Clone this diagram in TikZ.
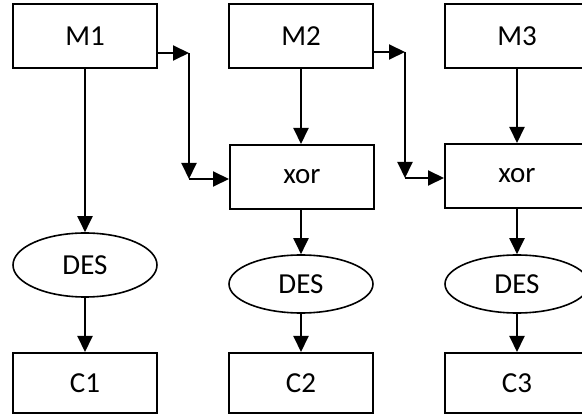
\documentclass[tikz,border=0pt]{standalone}
\usepackage{fontspec}
\setmainfont{Carlito}
\usetikzlibrary{shapes.geometric,arrows.meta}
\begin{document}
\begin{tikzpicture}[x=1pt,y=-1pt,
  box/.style={draw,line width=2pt,rectangle,minimum width=144pt,minimum height=64pt,inner sep=0pt,font=\fontsize{29}{32}\selectfont},
  oval/.style={draw,line width=1.6pt,ellipse,minimum width=144pt,minimum height=62pt,inner sep=0pt,font=\fontsize{29}{32}\selectfont},
  arr/.style={line width=2pt,-{Triangle[length=16pt,width=15pt]}}]
\clip (0,0) rectangle (582,414);
\fill[white] (0,0) rectangle (582,414);
% column 1
\node[box] (M1) at (85,36) {M1};
\node[oval,minimum height=64pt] (D1) at (85,265) {DES};
\node[box,minimum height=60pt] (C1) at (85,383) {C1};
% column 2
\node[box] (M2) at (301,36) {M2};
\node[box] (X2) at (302,177) {xor};
\node[oval,minimum height=58pt] (D2) at (301,284) {DES};
\node[box,minimum height=60pt] (C2) at (301,383) {C2};
% column 3
\node[box] (M3) at (517,36) {M3};
\node[box] (X3) at (517,176) {xor};
\node[oval,minimum height=58pt] (D3) at (517,284) {DES};
\node[box,minimum height=60pt] (C3) at (517,383) {C3};
% side arrow points
\coordinate (a1) at (189,53);
\coordinate (b1) at (189,179);
\coordinate (a2) at (405,52);
\coordinate (b2) at (405,178);
% connectors column 1
\draw[arr] (M1) -- (D1);
\draw[arr] (D1) -- (C1);
% column 2
\draw[arr] (M2) -- (M2 |- X2.north);
\draw[arr] (D2 |- X2.south) -- (D2);
\draw[arr] (D2) -- (C2);
% column 3
\draw[arr] (M3) -- (X3);
\draw[arr] (X3) -- (D3);
\draw[arr] (D3) -- (C3);
% side arrows
\draw[arr] (M1.east |- a1) -- (a1);
\draw[arr] (a1) -- (b1);
\draw[arr] (b1) -- (X2.west |- b1);
\draw[arr] (M2.east |- a2) -- (a2);
\draw[arr] (a2) -- (b2);
\draw[arr] (b2) -- (X3.west |- b2);
\end{tikzpicture}
\end{document}
